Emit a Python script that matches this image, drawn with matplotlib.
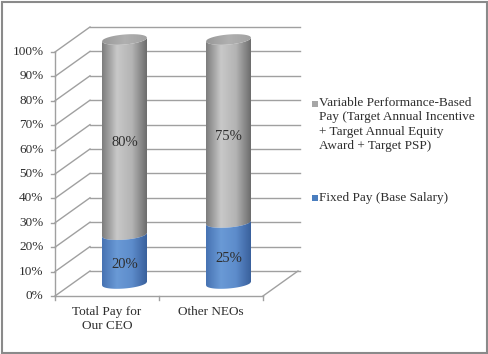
import numpy as np
import matplotlib
matplotlib.use("Agg")
import matplotlib.pyplot as plt
from matplotlib.patches import Polygon, Rectangle
from matplotlib.colors import LinearSegmentedColormap

# ── data ────────────────────────────────────────────────────────
categories = ["Total Pay for\nOur CEO", "Other NEOs"]
fixed_pay = [20, 25]
variable_pay = [80, 75]
fixed_name = "Fixed Pay (Base Salary)"
variable_name = ("Variable Performance-Based\nPay (Target Annual Incentive\n"
                 "+ Target Annual Equity\nAward + Target PSP)")
yticks = list(range(0, 101, 10))

plt.rcParams["font.family"] = ["Liberation Serif", "DejaVu Serif"]
FS = 9.5
TXT = "#2e2e2e"
GRID = "#a0a0a0"

W, H = 488, 354
fig = plt.figure(figsize=(W / 100, H / 100), dpi=100)
ax = fig.add_axes([0, 0, 1, 1])

# front plane of the 3D box: x in category units, y in percent
PX_X0, PX_UNIT = 55, 104
PX_Y0, PX_PCT = 296, 2.44
ax.set_xlim(-PX_X0 / PX_UNIT, (W - PX_X0) / PX_UNIT)
ax.set_ylim((PX_Y0 - H) / PX_PCT, PX_Y0 / PX_PCT)
ax.axis("off")
DX, DY = 35 / PX_UNIT, 25 / PX_PCT          # depth of box
BACK_R = (300 - PX_X0) / PX_UNIT - DX        # back wall right end (front coords)
ncat = len(categories)

# ── walls / grid ────────────────────────────────────────────────
for v in yticks:
    ax.plot([0, DX], [v, v + DY], color=GRID, lw=1, zorder=1)
    ax.plot([DX, BACK_R + DX], [v + DY, v + DY], color=GRID, lw=1, zorder=1)
    ax.plot([-0.04, 0], [v, v], color=GRID, lw=1, zorder=1)
    ax.text(-0.11, v, f"{v}%", ha="right", va="center", fontsize=FS, color=TXT)
ax.plot([0, 0], [0, 100], color=GRID, lw=1, zorder=1)
ax.plot([0, ncat], [0, 0], color=GRID, lw=1, zorder=1)
ax.plot([ncat, ncat + DX], [0, DY], color=GRID, lw=1, zorder=1)
for i in range(ncat + 1):
    ax.plot([i, i], [0, -1.6], color=GRID, lw=1, zorder=1)
for i, c in enumerate(categories):
    ax.text(i + 0.5, -4.3, c, ha="center", va="top", fontsize=FS, color=TXT,
            linespacing=1.2)

# ── cylinders ───────────────────────────────────────────────────
gray_cm = LinearSegmentedColormap.from_list("g", ["#7c7c7c", "#c8c8c8", "#b4b4b4", "#6c6c6c"])
blue_cm = LinearSegmentedColormap.from_list("b", ["#4672b2", "#6a9ad6", "#5d8ccb", "#39609c"])
cap_cm = LinearSegmentedColormap.from_list("c", ["#989898", "#b0b0b0", "#a2a2a2"])

HW = 22.5 / PX_UNIT     # cylinder half-width
B = 5 / PX_PCT          # ellipse semi-height
TILT = 1.8 / PX_PCT
u = np.linspace(-1, 1, 60)


def arc(xc, y, lower=True):
    s = -1 if lower else 1
    return np.column_stack([xc + HW * u, y + s * B * np.sqrt(1 - u ** 2) + TILT * u])


def shade(verts, cmap, z):
    patch = Polygon(verts, closed=True, facecolor="none", edgecolor="none")
    ax.add_patch(patch)
    xs, ys = verts[:, 0], verts[:, 1]
    im = ax.imshow(np.linspace(0, 1, 256).reshape(1, -1), cmap=cmap, aspect="auto",
                   extent=[xs.min(), xs.max(), ys.min(), ys.max()], origin="lower",
                   zorder=z, interpolation="bilinear")
    im.set_clip_path(patch)


for i in range(ncat):
    xc = i + 0.5 + DX / 2
    yb = DY / 2
    levels = [0, fixed_pay[i], fixed_pay[i] + variable_pay[i]]
    for k, cm in enumerate([blue_cm, gray_cm]):
        lo = arc(xc, yb + levels[k])
        hi = arc(xc, yb + levels[k + 1])[::-1]
        shade(np.vstack([lo, hi]), cm, 3 - k)
    top = yb + levels[-1]
    cap = np.vstack([arc(xc, top, True), arc(xc, top, False)[::-1]])
    shade(cap, cap_cm, 4)
    for k, val in enumerate([fixed_pay[i], variable_pay[i]]):
        ymid = yb + (levels[k] + levels[k + 1]) / 2 - 2.4
        ax.text(xc, ymid, f"{val}%", ha="center", va="center", fontsize=FS + 1,
                color=TXT, zorder=6)

ax.set_xlim(-PX_X0 / PX_UNIT, (W - PX_X0) / PX_UNIT)
ax.set_ylim((PX_Y0 - H) / PX_PCT, PX_Y0 / PX_PCT)

# ── legend ──────────────────────────────────────────────────────
fig.patches.append(Rectangle((312 / W, 1 - 107 / H), 6 / W, 6 / H, transform=fig.transFigure,
                             facecolor="#a6a6a6", edgecolor="none"))
fig.text(319 / W, 1 - 97 / H, variable_name, ha="left", va="top", fontsize=FS,
         color=TXT, linespacing=1.27)
fig.patches.append(Rectangle((312 / W, 1 - 201 / H), 6 / W, 6 / H, transform=fig.transFigure,
                             facecolor="#4a7ebf", edgecolor="none"))
fig.text(319 / W, 1 - 198 / H, fixed_name, ha="left", va="center", fontsize=FS, color=TXT)

# ── outer frame ─────────────────────────────────────────────────
fig.patches.append(Rectangle((1.5 / W, 1.5 / H), 1 - 3 / W, 1 - 3 / H, transform=fig.transFigure,
                             facecolor="none", edgecolor="#8a8a8a", lw=1.5))

fig.savefig("out.png", dpi=100)
